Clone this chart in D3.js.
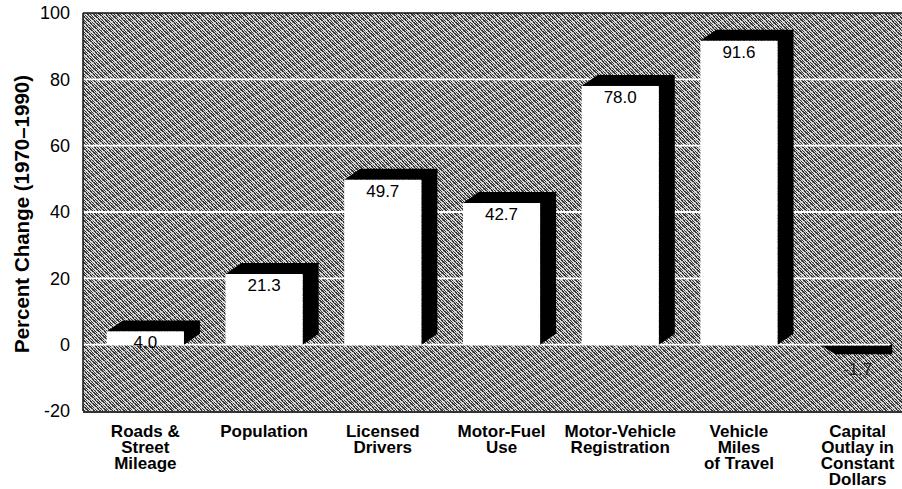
<!DOCTYPE html>
<html>
<head>
<meta charset="utf-8">
<script src="https://cdn.jsdelivr.net/npm/d3@7"></script>
<style>
  body { margin: 0; background: #fff; }
  text { font-family: "Liberation Sans", Arial, Helvetica, sans-serif; }
</style>
</head>
<body>
<svg id="chart" width="902" height="489"></svg>
<script>
// data
var categories = ["Roads & Street Mileage", "Population", "Licensed Drivers", "Motor-Fuel Use",
  "Motor-Vehicle Registration", "Vehicle Miles of Travel", "Capital Outlay in Constant Dollars"];
var labelLines = [["Roads &", "Street", "Mileage"], ["Population"], ["Licensed", "Drivers"],
  ["Motor-Fuel", "Use"], ["Motor-Vehicle", "Registration"], ["Vehicle", "Miles", "of Travel"],
  ["Capital", "Outlay in", "Constant", "Dollars"]];
var values = [4.0, 21.3, 49.7, 42.7, 78.0, 91.6, -1.7];
var valueLabels = ["4.0", "21.3", "49.7", "42.7", "78.0", "91.6", "-1.7"];
var yTicks = [-20, 0, 20, 40, 60, 80, 100];
var gridTicks = [0, 20, 40, 60, 80];

var svg = d3.select("#chart");
// plot box (not "top" - that's window.top)
var pLeft = 83, pRight = 902, pTop = 13, pBottom = 411;

var x = d3.scaleBand()
  .domain(categories)
  .range([86, 917])
  .paddingInner(0.35)
  .paddingOuter(0.175);

var y = d3.scaleLinear().domain([-20, 100]).range([pBottom, pTop]);

// dithered texture for the plot background: 1px checker, inverted along diagonal bands
var defs = svg.append("defs");
var N = 42;
var pat = defs.append("pattern")
  .attr("id", "dither")
  .attr("width", N).attr("height", N)
  .attr("patternUnits", "userSpaceOnUse");
for (var j = 0; j < N; j++) {
  for (var i = 0; i < N; i++) {
    var chk = (i + j) % 2 === 0;
    var band = ((i - j + 84) % 6) < 2;
    var col = (chk !== band) ? "#343434" : "#e0e0e0";
    if ((i * 5 + j * 3) % 7 === 0) col = "#9c9c9c";
    pat.append("rect").attr("x", i).attr("y", j).attr("width", 1).attr("height", 1)
      .attr("fill", col);
  }
}

svg.append("rect")
  .attr("x", pLeft).attr("y", pTop)
  .attr("width", pRight - pLeft).attr("height", pBottom - pTop)
  .attr("fill", "url(#dither)");

// white gridlines
svg.append("g").selectAll("line")
  .data(gridTicks)
  .enter().append("line")
  .attr("x1", pLeft).attr("x2", function(d) { return d === 0 ? 890 : pRight; })
  .attr("y1", function(d) { return y(d); })
  .attr("y2", function(d) { return y(d); })
  .attr("stroke", "#fff").attr("stroke-width", 1.8);

// frame
svg.append("line").attr("x1", pLeft).attr("x2", pRight).attr("y1", pTop).attr("y2", pTop)
  .attr("stroke", "#111").attr("stroke-width", 1.5);
svg.append("line").attr("x1", pLeft).attr("x2", pLeft).attr("y1", pTop).attr("y2", pBottom)
  .attr("stroke", "#111").attr("stroke-width", 1.5);
svg.append("line").attr("x1", pLeft).attr("x2", pRight).attr("y1", pBottom + 1).attr("y2", pBottom + 1)
  .attr("stroke", "#333").attr("stroke-width", 2);

// 3d bars
var dx = 16, dy = -11;
var bars = svg.append("g").selectAll("g.bar")
  .data(values)
  .enter().append("g").attr("class", "bar");

bars.append("path")
  .attr("d", function(d, i) {
    var x0 = x(categories[i]), x1 = x0 + x.bandwidth();
    var y0 = y(0), yv = y(d);
    if (d < 0) {
      // the printed original draws the dark shadow under the thin face
      return "M" + (x0 + 3) + "," + (y0 + 1) +
        "L" + (x0 + dx) + "," + (yv + 4) +
        "L" + (x1 - 4) + "," + (yv + 4) +
        "L" + (x1 - 4) + "," + (y0 - 1) +
        "L" + (x1 - 7) + "," + (y0 + 1) + "Z";
    }
    return "M" + x0 + "," + yv +
      "L" + (x0 + dx) + "," + (yv + dy) +
      "L" + (x1 + dx) + "," + (yv + dy) +
      "L" + (x1 + dx) + "," + (y0 + dy) +
      "L" + x1 + "," + y0 +
      "L" + x1 + "," + yv + "Z";
  })
  .attr("fill", "#000");

bars.filter(function(d) { return d >= 0; }).append("rect")
  .attr("x", function(d) { return x(categories[values.indexOf(d)]); })
  .attr("y", function(d) { return y(d); })
  .attr("width", x.bandwidth())
  .attr("height", function(d) { return y(0) - y(d); })
  .attr("fill", "#fff");

bars.append("text")
  .attr("x", function(d, i) { return x(categories[i]) + x.bandwidth() / 2; })
  .attr("y", function(d) { return d >= 0 ? y(d) + 17 : y(d) + 25; })
  .attr("text-anchor", "middle")
  .attr("font-size", 17)
  .attr("fill", function(d) { return d >= 0 ? "#000" : "#222"; })
  .text(function(d, i) { return valueLabels[i]; });

// y axis
var yAxis = svg.append("g")
  .attr("transform", "translate(" + (pLeft - 10) + ",0)")
  .call(d3.axisLeft(y).tickValues(yTicks).tickSize(0).tickFormat(function(d) { return String(d); }));
yAxis.select(".domain").remove();
yAxis.selectAll("text")
  .attr("font-size", 18)
  .attr("fill", "#000")
  .style("font-family", "'Liberation Sans', Arial, sans-serif");

svg.append("text")
  .attr("transform", "translate(29,214) rotate(-90)")
  .attr("text-anchor", "middle")
  .attr("font-size", 20.5)
  .attr("font-weight", "bold")
  .text("Percent Change (1970\u20131990)");

// category labels
var cat = svg.append("g").selectAll("text")
  .data(categories)
  .enter().append("text")
  .attr("x", function(d) { return x(d) + x.bandwidth() / 2; })
  .attr("y", 437)
  .attr("text-anchor", "middle")
  .attr("font-size", 17)
  .attr("font-weight", "bold");
cat.selectAll("tspan")
  .data(function(d, i) { return labelLines[i]; })
  .enter().append("tspan")
  .attr("x", function() { return d3.select(this.parentNode).attr("x"); })
  .attr("dy", function(d, j) { return j === 0 ? 0 : 16; })
  .text(function(d) { return d; });
</script>
</body>
</html>
